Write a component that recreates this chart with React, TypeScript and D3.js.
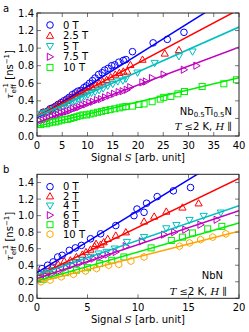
import React from 'react';
import * as d3 from 'd3';

// panel a : Nb0.5Ti0.5N
const fieldsA = ['0 T', '2.5 T', '5 T', '7.5 T', '10 T'];
const colorsA = ['#0000ff', '#ff0000', '#00bfbf', '#bf00bf', '#00ee00'];
const markersA = ['circle', 'up', 'down', 'right', 'square'];
const a0T: [number, number][] = [[1.2,0.27],[2.0,0.28],[2.6,0.31],[3.1,0.32],[3.7,0.34],[4.2,0.36],[4.8,0.38],[5.3,0.40],[5.9,0.42],[6.4,0.44],[7.0,0.47],[7.6,0.49],[8.1,0.51],[8.7,0.52],[9.3,0.55],[9.8,0.57],[10.4,0.60],[11.0,0.63],[11.5,0.66],[12.2,0.70],[12.9,0.72],[13.4,0.75],[14.1,0.77],[14.8,0.80],[15.4,0.81],[16.2,0.84],[17.1,0.86],[17.6,0.87],[18.9,0.96],[23.0,1.06],[25.8,1.10],[29.1,1.18]];
const a25T: [number, number][] = [[0.8,0.26],[1.3,0.27],[1.9,0.28],[2.4,0.30],[3.0,0.31],[3.5,0.33],[4.1,0.35],[4.6,0.37],[5.2,0.38],[5.8,0.40],[6.3,0.42],[6.9,0.44],[7.5,0.46],[8.0,0.48],[8.6,0.50],[9.1,0.51],[9.7,0.52],[10.3,0.55],[10.9,0.56],[11.6,0.58],[12.3,0.60],[13.0,0.62],[13.8,0.64],[14.6,0.67],[15.5,0.70],[16.3,0.72],[17.1,0.735],[17.9,0.735],[18.5,0.81],[20.9,0.87],[25.3,0.94],[28.1,0.98]];
const a5T: [number, number][] = [[0.9,0.25],[1.5,0.26],[2.1,0.27],[2.7,0.28],[3.3,0.30],[3.9,0.31],[4.5,0.33],[5.1,0.34],[5.7,0.36],[6.3,0.37],[6.9,0.39],[7.5,0.40],[8.1,0.42],[8.8,0.43],[9.4,0.45],[10.1,0.47],[10.8,0.49],[11.5,0.50],[12.3,0.52],[13.1,0.54],[14.0,0.57],[15.0,0.59],[16.0,0.62],[17.0,0.63],[17.6,0.65],[19.9,0.72],[23.3,0.83],[28.1,0.906],[30.8,0.96]];
const a75T: [number, number][] = [[0.6,0.17],[1.2,0.18],[1.8,0.19],[2.4,0.20],[3.0,0.22],[3.6,0.23],[4.2,0.24],[4.8,0.26],[5.4,0.27],[6.0,0.28],[6.6,0.29],[7.2,0.31],[7.8,0.32],[8.4,0.33],[9.0,0.35],[9.7,0.36],[10.4,0.38],[11.1,0.39],[11.9,0.41],[12.7,0.42],[13.5,0.44],[14.4,0.46],[15.3,0.48],[16.2,0.50],[17.0,0.51],[17.8,0.526],[18.5,0.556],[20.9,0.61],[21.6,0.62],[22.8,0.66],[25.1,0.70],[29.1,0.754],[31.6,0.80]];
const a10T: [number, number][] = [[0.7,0.13],[1.3,0.14],[1.9,0.14],[2.5,0.15],[3.1,0.16],[3.7,0.16],[4.3,0.17],[4.9,0.18],[5.5,0.19],[6.1,0.19],[6.7,0.20],[7.3,0.21],[7.9,0.22],[8.5,0.23],[9.1,0.24],[9.8,0.24],[10.5,0.25],[11.2,0.26],[12.0,0.27],[12.8,0.28],[13.6,0.29],[14.5,0.30],[15.4,0.31],[16.3,0.32],[17.0,0.33],[17.6,0.335],[18.9,0.34],[20.2,0.358],[21.2,0.365],[22.8,0.39],[24.4,0.42],[25.1,0.44],[26.5,0.45],[27.9,0.48],[29.2,0.506],[32.7,0.563],[37.0,0.594],[39.5,0.64]];
// linear fits [intercept, slope]
const fitA: [number, number][] = [[0.206, 0.036], [0.22, 0.0305], [0.22, 0.0255], [0.15, 0.0215], [0.11, 0.0138]];

// panel b : NbN
const fieldsB = ['0 T', '2 T', '4 T', '6 T', '8 T', '10 T'];
const colorsB = ['#0000ff', '#ff0000', '#00bfbf', '#bf00bf', '#00ee00', '#ffa500'];
const markersB = ['circle', 'up', 'down', 'right', 'square', 'hex'];
const b0T: [number, number][] = [[0.5,0.36],[1.05,0.40],[1.6,0.44],[2.05,0.50],[2.5,0.52],[3.2,0.58],[3.8,0.61],[4.4,0.64],[5.3,0.72],[6.3,0.78],[7.8,0.88],[9.6,1.0],[9.9,1.08],[10.6,1.04],[10.85,1.15],[11.9,1.23],[13.5,1.30],[15.2,1.34]];
const b2T: [number, number][] = [[0.2,0.31],[0.8,0.33],[1.5,0.39],[2.1,0.41],[2.7,0.45],[3.3,0.46],[3.9,0.50],[4.5,0.53],[4.85,0.56],[5.3,0.59],[5.7,0.63],[5.85,0.66],[6.3,0.65],[6.6,0.68],[7.0,0.72],[7.8,0.76],[8.8,0.80],[10.6,0.93],[11.6,0.99],[12.8,1.05],[14.4,1.10],[16.0,1.15]];
const b4T: [number, number][] = [[0.4,0.29],[1.1,0.31],[1.7,0.34],[2.4,0.37],[3.1,0.40],[3.8,0.43],[4.5,0.46],[5.3,0.50],[6.1,0.54],[6.9,0.56],[7.7,0.60],[8.9,0.68],[10.6,0.74],[12.8,0.845],[13.8,0.885],[15.1,0.946],[16.5,0.995],[18.2,1.035]];
const b6T: [number, number][] = [[0.3,0.25],[0.9,0.27],[1.5,0.30],[2.2,0.33],[2.9,0.37],[3.5,0.40],[4.2,0.42],[4.9,0.45],[5.6,0.48],[6.3,0.50],[7.0,0.53],[7.8,0.56],[8.8,0.63],[10.4,0.69],[12.6,0.77],[13.6,0.80],[14.7,0.83],[16.2,0.89],[17.8,0.95]];
const b8T: [number, number][] = [[0.6,0.23],[1.6,0.28],[2.8,0.31],[3.9,0.34],[5.0,0.37],[6.2,0.42],[7.4,0.46],[8.6,0.50],[11.3,0.61],[13.3,0.70],[14.4,0.74],[15.4,0.79],[16.9,0.84],[18.3,0.87]];
const b10T: [number, number][] = [[0.4,0.20],[1.3,0.22],[2.4,0.26],[3.6,0.29],[4.8,0.33],[5.9,0.36],[7.1,0.40],[8.1,0.41],[9.3,0.45],[10.6,0.50],[14.1,0.63],[15.1,0.67],[16.2,0.71],[17.4,0.74],[18.7,0.78]];
const fitB: [number, number][] = [[0.31, 0.075], [0.27, 0.059], [0.28, 0.042], [0.24, 0.041], [0.21, 0.035], [0.19, 0.031]];

const yTicks = [0, 0.2, 0.4, 0.6, 0.8, 1.0, 1.2, 1.4];
const xTicksA = [0, 5, 10, 15, 20, 25, 30, 35, 40];
const xTicksB = [0, 5, 10, 15, 20];

const font = 'DejaVu Sans, sans-serif';
const serif = 'DejaVu Serif, serif';

function Marker({ type, x, y, color }: { type: string; x: number; y: number; color: string }) {
  const p = { fill: 'none', stroke: color, strokeWidth: 1 };
  const s = 3.6;
  if (type === 'circle') return <circle cx={x} cy={y} r={3.3} {...p} />;
  if (type === 'square') return <rect x={x - 3} y={y - 3} width={6} height={6} {...p} />;
  let pts: [number, number][] = [];
  if (type === 'up') pts = [[0, -s], [s, s * 0.75], [-s, s * 0.75]];
  if (type === 'down') pts = [[0, s], [s, -s * 0.75], [-s, -s * 0.75]];
  if (type === 'right') pts = [[s, 0], [-s * 0.75, s], [-s * 0.75, -s]];
  if (type === 'hex') pts = d3.range(6).map(i => [3.5 * Math.cos(Math.PI / 6 + i * Math.PI / 3), 3.5 * Math.sin(Math.PI / 6 + i * Math.PI / 3)] as [number, number]);
  return <polygon points={pts.map(d => `${x + d[0]},${y + d[1]}`).join(' ')} {...p} />;
}

function Panel(props: any) {
  const { id, top, bottom, xMax, yMax, xTicks, series, fits, colors, markers, labels, legendY, legendStep, tag, note, noteRight, noteY } = props;
  const left = 37, right = 239;
  const x = d3.scaleLinear().domain([0, xMax]).range([left, right]);
  const y = d3.scaleLinear().domain([0, yMax]).range([bottom, top]);
  const tickColor = '#777';
  return (
    <g>
      <defs>
        <clipPath id={id}><rect x={left} y={top} width={right - left} height={bottom - top} /></clipPath>
      </defs>
      <g clipPath={`url(#${id})`}>
        {series.map((pts: [number, number][], i: number) => (
          <g key={i}>
            {pts.map((d, j) => <Marker key={j} type={markers[i]} x={x(d[0])} y={y(d[1])} color={colors[i]} />)}
          </g>
        ))}
        {fits.map((f: [number, number], i: number) => (
          <line key={'l' + i} x1={x(0)} y1={y(f[0])} x2={x(xMax)} y2={y(f[0] + f[1] * xMax)} stroke={colors[i]} strokeWidth={1.5} />
        ))}
      </g>
      {/* ticks, inward on all sides */}
      {xTicks.map((t: number) => (
        <g key={'x' + t}>
          <line x1={x(t)} x2={x(t)} y1={bottom} y2={bottom - 4} stroke={tickColor} />
          <line x1={x(t)} x2={x(t)} y1={top} y2={top + 4} stroke={tickColor} />
          <text x={x(t)} y={bottom + 13} textAnchor="middle" fontSize={10} fontFamily={font}>{t}</text>
        </g>
      ))}
      {yTicks.map(t => (
        <g key={'y' + t}>
          <line x1={left} x2={left + 4} y1={y(t)} y2={y(t)} stroke={tickColor} />
          <line x1={right} x2={right - 4} y1={y(t)} y2={y(t)} stroke={tickColor} />
          <text x={left - 3} y={y(t) + 3.6} textAnchor="end" fontSize={10} fontFamily={font}>{d3.format('.1f')(t)}</text>
        </g>
      ))}
      <rect x={left} y={top} width={right - left} height={bottom - top} fill="none" stroke="#222" strokeWidth={1} />
      {/* legend */}
      {labels.map((l: string, i: number) => (
        <g key={'lg' + i}>
          <Marker type={markers[i]} x={50} y={legendY + i * legendStep} color={colors[i]} />
          <text x={63} y={legendY + i * legendStep + 3.6} fontSize={10} fontFamily={font}>{l}</text>
        </g>
      ))}
      <text x={3} y={top - 1.5} fontSize={10} fontFamily={font}>{tag}</text>
      <text transform={`translate(13,${(top + bottom) / 2}) rotate(-90)`} textAnchor="middle" fontSize={10} fontFamily={font}>
        <tspan fontFamily={serif} fontStyle="italic">τ</tspan>
        <tspan fontSize={7} dy={3}>eff</tspan>
        <tspan fontSize={7} dy={-8} dx={-9}>−1</tspan>
        <tspan dy={5}> [ns</tspan>
        <tspan fontSize={7} dy={-4}>−1</tspan>
        <tspan dy={4}>]</tspan>
      </text>
      <text x={(left + right) / 2} y={bottom + 25} textAnchor="middle" fontSize={10} fontFamily={font}>
        Signal <tspan fontFamily={serif} fontStyle="italic">S</tspan> [arb. unit]
      </text>
      {note}
      <text x={noteRight} y={noteY} textAnchor="end" fontSize={10}>
        <tspan fontFamily={serif} fontStyle="italic">T</tspan>
        <tspan fontFamily={serif}> ≤</tspan>
        <tspan fontFamily={font}>2 K, </tspan>
        <tspan fontFamily={serif} fontStyle="italic">H</tspan>
        <tspan fontFamily={serif}> ∥</tspan>
      </text>
    </g>
  );
}

export default function App() {
  return (
    <svg width={249} height={332} style={{ position: 'absolute', left: 0, top: 0, background: '#fff' }}>
      <Panel id="ca" top={13} bottom={136} xMax={40} yMax={1.4} xTicks={xTicksA}
        series={[a0T, a25T, a5T, a75T, a10T]} fits={fitA} colors={colorsA} markers={markersA}
        labels={fieldsA} legendY={25} legendStep={10.6} tag="a" noteRight={232} noteY={129.5}
        note={
          <text x={232} y={115} textAnchor="end" fontSize={10} fontFamily={font}>
            Nb<tspan fontSize={7} dy={2}>0.5</tspan><tspan dy={-2}>Ti</tspan><tspan fontSize={7} dy={2}>0.5</tspan><tspan dy={-2}>N</tspan>
          </text>
        } />
      <Panel id="cb" top={174.3} bottom={298.3} xMax={20} yMax={1.5} xTicks={xTicksB}
        series={[b0T, b2T, b4T, b6T, b8T, b10T]} fits={fitB} colors={colorsB} markers={markersB}
        labels={fieldsB} legendY={186.7} legendStep={9.5} tag="b" noteRight={227} noteY={294.5}
        note={<text x={223} y={279} textAnchor="end" fontSize={10} fontFamily={font}>NbN</text>} />
    </svg>
  );
}
